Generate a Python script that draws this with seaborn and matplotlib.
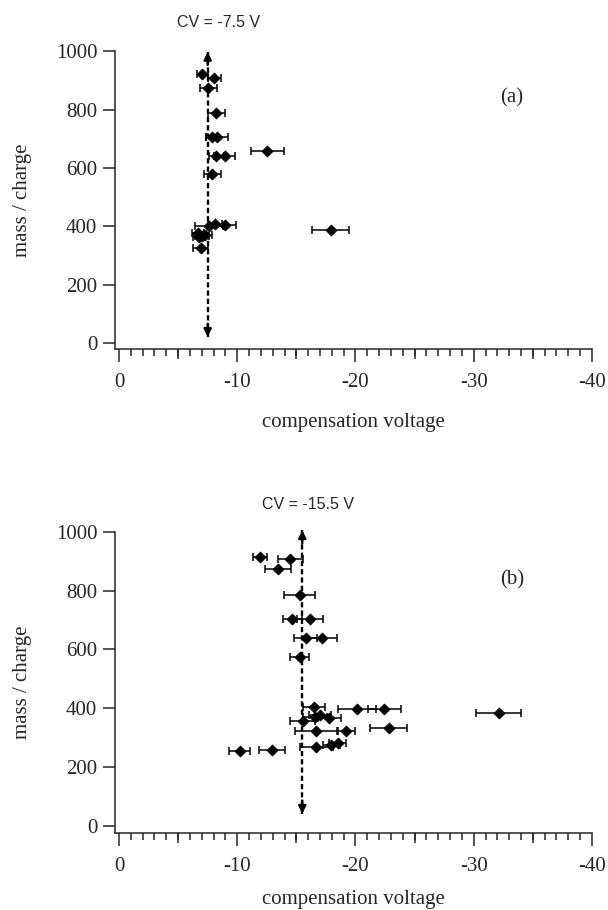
import numpy as np
import pandas as pd
import matplotlib
matplotlib.use("Agg")
import matplotlib.pyplot as plt
from matplotlib.ticker import MultipleLocator, FixedLocator
import seaborn as sns

# panel (a): CV = -7.5 V
cv_a = [-7.06, -8.05, -7.54, -8.24, -7.9, -8.3, -8.24, -8.95, -12.55, -7.9,
        -7.6, -8.1, -9.0, -17.9, -6.7, -7.0, -7.3, -6.8, -6.9]
mz_a = [923, 910, 875, 790, 706, 706, 643, 643, 658, 581,
        400, 409, 404, 389, 378, 368, 372, 365, 325]
err_a = [0.45, 0.56, 0.72, 0.7, 0.5, 0.9, 0.6, 0.9, 1.38, 0.7,
         1.2, 0.6, 0.9, 1.55, 0.5, 0.6, 0.6, 0.5, 0.65]

# panel (b): CV = -15.5 V
cv_b = [-11.95, -14.5, -13.45, -15.27, -14.66, -16.17, -15.78, -17.19, -15.27,
        -16.48, -20.14, -22.45, -32.1, -15.55, -16.6, -17.0, -17.8,
        -16.68, -19.2, -22.8, -16.68, -17.95, -18.5, -10.2, -12.97]
mz_b = [915, 906, 873, 785, 702, 702, 639, 639, 575,
        405, 397, 397, 385, 357, 372, 378, 366,
        323, 323, 333, 269, 277, 282, 254, 257]
err_b = [0.58, 1.05, 1.12, 1.34, 0.82, 1.1, 0.96, 1.28, 0.83,
         0.91, 1.6, 1.41, 1.91, 1.05, 1.0, 0.9, 1.0,
         1.83, 0.75, 1.6, 1.4, 0.7, 0.7, 0.92, 1.1]

cv_lines = [-7.5, -15.5]
arrow_spans = [(22, 998), (42, 1005)]
panel_tags = ["(a)", "(b)"]

sns.set_style("ticks")
plt.rcParams["font.family"] = ["Liberation Serif", "DejaVu Serif"]
plt.rcParams["axes.unicode_minus"] = False

fig = plt.figure(figsize=(6.08, 9.10), dpi=100)
ax_a = fig.add_axes([0.1891, 0.6162, 0.7845, 0.3274])
ax_b = fig.add_axes([0.1891, 0.0849, 0.7845, 0.3308])

panels = [
    (ax_a, cv_a, mz_a, err_a, (-20.5, 1000), (0.2174, 1.097), (0.832, 0.8435), 15),
    (ax_b, cv_b, mz_b, err_b, (-22.5, 1000), (0.4046, 1.092), (0.832, 0.8395), 10.5),
]

for i, (ax, cv, mz, err, ylim, cv_pos, tag_pos, xpad) in enumerate(panels):
    df = pd.DataFrame({"cv": cv, "mz": mz, "err": err})
    ax.errorbar(df["cv"], df["mz"], xerr=df["err"], fmt="none", ecolor="black",
                elinewidth=1.1, capsize=2.9, capthick=1.1, zorder=2)
    sns.scatterplot(data=df, x="cv", y="mz", marker="D", s=32, color="black",
                    edgecolor="black", linewidth=0.5, ax=ax, zorder=3)

    # dashed CV line with arrowheads at both ends
    y0, y1 = arrow_spans[i]
    c = cv_lines[i]
    ax.plot([c, c], [y0, y1], color="black", lw=1.7, ls=(0, (2.2, 1.3)),
            zorder=1, clip_on=False)
    for ya, yb in [(y1, y1 - 45), (y0, y0 + 45)]:
        ax.annotate("", xy=(c, ya), xytext=(c, yb), annotation_clip=False,
                    arrowprops=dict(arrowstyle="-|>", color="black", lw=1.7,
                                    mutation_scale=11, shrinkA=0, shrinkB=0))

    ax.set_xlim(0.34, -40)
    ax.set_ylim(*ylim)
    ax.yaxis.set_major_locator(FixedLocator([0, 200, 400, 600, 800, 1000]))
    ax.xaxis.set_major_locator(MultipleLocator(10))
    ax.xaxis.set_minor_locator(MultipleLocator(1))
    ax.tick_params(axis="y", length=8.8, width=1.1, labelsize=15, pad=4)
    ax.tick_params(axis="x", which="major", length=9.4, width=1.1, labelsize=15, pad=8)
    ax.tick_params(axis="x", which="minor", length=5, width=1.1)

    sec = ax.secondary_xaxis("bottom")
    sec.set_xticks([-5, -15, -25, -35])
    sec.tick_params(length=7.2, width=1.1, labelbottom=False)
    sec.spines["bottom"].set_visible(False)

    for s in ["top", "right"]:
        ax.spines[s].set_visible(False)
    for s in ["left", "bottom"]:
        ax.spines[s].set_linewidth(1.1)

    ax.set_xlabel("compensation voltage", fontsize=15, labelpad=xpad)
    ax.set_ylabel("mass / charge", fontsize=15)
    ax.yaxis.set_label_coords(-0.175, 0.5)

    ax.text(cv_pos[0], cv_pos[1], f"CV = {c} V", transform=ax.transAxes,
            ha="center", va="center", fontsize=11.5,
            family=["Liberation Sans", "DejaVu Sans"])
    ax.text(tag_pos[0], tag_pos[1], panel_tags[i], transform=ax.transAxes,
            ha="center", va="center", fontsize=15)

fig.savefig("out.png", dpi=100)
